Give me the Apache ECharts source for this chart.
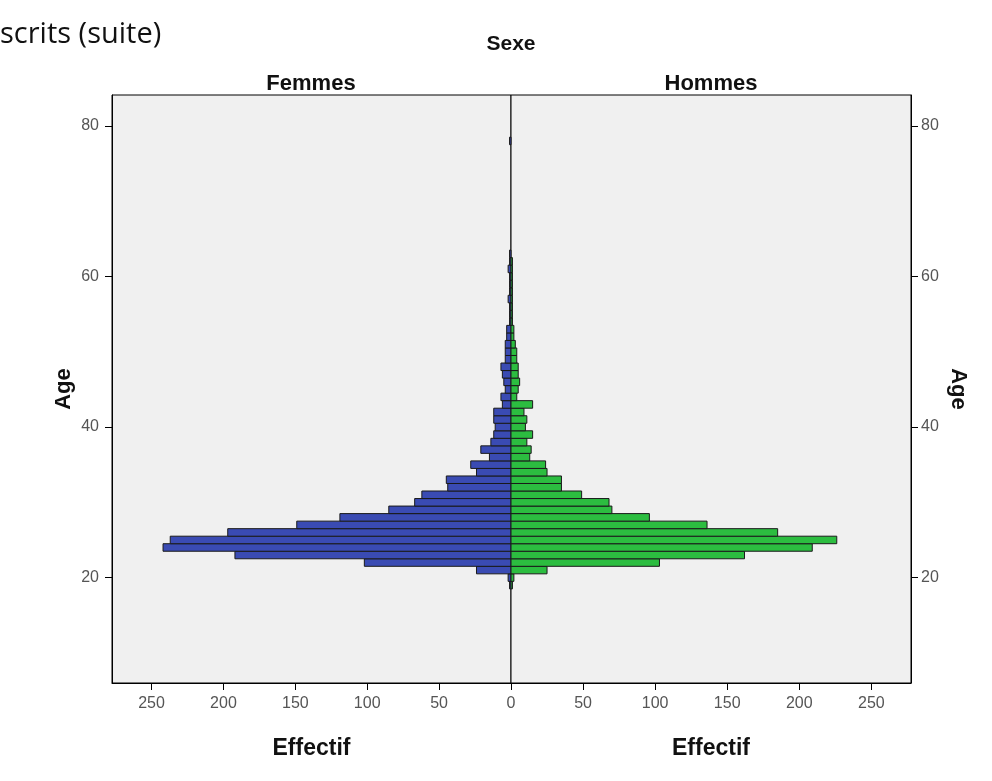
<!DOCTYPE html>
<html>
<head>
<meta charset="utf-8">
<script src="https://cdn.jsdelivr.net/npm/echarts@6/dist/echarts.min.js"></script>
<style>
html,body{margin:0;padding:0;background:#fff;}
#chart{width:992px;height:781px;}
</style>
</head>
<body>
<div id="chart"></div>
<script>
// Ages (one-year bins)
const ages = [19,20,21,22,23,24,25,26,27,28,29,30,31,32,33,34,35,36,37,38,39,40,41,42,43,44,45,46,47,48,49,50,51,52,53,54,55,56,57,58,59,60,61,62,63,78];
// Effectif, Femmes
const femmes = [1,2,24,102,192,242,237,197,149,119,85,67,62,44,45,24,28,15,21,14,12,11,12,12,6,7,4,5,6,7,4,4,4,3,3,1,1,1,2,1,1,1,2,1,1,1];
// Effectif, Hommes
const hommes = [1,2,25,103,162,209,226,185,136,96,70,68,49,35,35,25,24,13,14,11,15,10,11,9,15,4,5,6,5,5,4,4,3,2,2,1,1,1,1,1,1,1,1,1,0,0];
// Tick labels
const xTicks = [0,50,100,150,200,250];
const xTicksRightLabels = [50,100,150,200,250];
const yTicks = [20,40,60,80];

const FONT = 'Liberation Sans';
const chart = echarts.init(document.getElementById('chart'));

function makeRender(color){
  return function(params, api){
    const v = api.value(0), a = api.value(1);
    if (!v) return null;
    const p0 = api.coord([0, a + 0.5]);
    const p1 = api.coord([v, a - 0.5]);
    return {
      type: 'rect',
      shape: {x: Math.min(p0[0], p1[0]), y: p0[1], width: Math.abs(p1[0] - p0[0]), height: p1[1] - p0[1]},
      style: {fill: color, stroke: '#1a1a1a', lineWidth: 1}
    };
  };
}

const axisCommonX = {
  type: 'value', min: 0, max: 277.5,
  axisLine: {show: true, onZero: false, lineStyle: {color: '#000', width: 1}},
  axisTick: {show: true, customValues: xTicks, length: 7, lineStyle: {color: '#000'}},
  axisLabel: {customValues: xTicks, color: '#555', fontFamily: FONT, fontSize: 16, margin: 13},
  splitLine: {show: false},
  name: 'Effectif', nameLocation: 'middle', nameGap: 54,
  nameTextStyle: {fontFamily: FONT, fontWeight: 'bold', fontSize: 23, color: '#111'}
};
const axisCommonY = {
  type: 'value', min: 6, max: 84.1,
  axisLine: {show: true, onZero: false, lineStyle: {color: '#000', width: 1}},
  axisTick: {show: true, customValues: yTicks, length: 7, lineStyle: {color: '#000'}},
  axisLabel: {customValues: yTicks, color: '#555', fontFamily: FONT, fontSize: 16, margin: 13},
  splitLine: {show: false},
  name: 'Age', nameLocation: 'middle',
  nameTextStyle: {fontFamily: FONT, fontWeight: 'bold', fontSize: 22, color: '#111'}
};

const femData = ages.map((a, i) => [femmes[i], a]);
const homData = ages.map((a, i) => [hommes[i], a]);

chart.setOption({
  animation: false,
  backgroundColor: '#fff',
  grid: [
    {left: 112, top: 95, width: 399, height: 588, show: true, backgroundColor: '#f0f0f0', borderColor: '#000', borderWidth: 1},
    {left: 511, top: 95, width: 400, height: 588, show: true, backgroundColor: '#f0f0f0', borderColor: '#000', borderWidth: 1}
  ],
  xAxis: [
    Object.assign({}, axisCommonX, {gridIndex: 0, inverse: true}),
    Object.assign({}, axisCommonX, {gridIndex: 1, axisLabel: Object.assign({}, axisCommonX.axisLabel, {customValues: xTicksRightLabels})})
  ],
  yAxis: [
    Object.assign({}, axisCommonY, {gridIndex: 0, position: 'left', nameGap: 37, nameRotate: 90}),
    Object.assign({}, axisCommonY, {gridIndex: 1, position: 'right', nameGap: 36, nameRotate: -90, axisLabel: Object.assign({}, axisCommonY.axisLabel, {margin: 10})})
  ],
  series: [
    {type: 'custom', name: 'Femmes', xAxisIndex: 0, yAxisIndex: 0, data: femData, encode: {x: 0, y: 1}, renderItem: makeRender('#3a4bb3')},
    {type: 'custom', name: 'Hommes', xAxisIndex: 1, yAxisIndex: 1, data: homData, encode: {x: 0, y: 1}, renderItem: makeRender('#2cbd40')}
  ],
  graphic: [
    {type: 'text', x: 0, y: 35, style: {text: 'scrits (suite)', font: '29px "Open Sans"', fill: '#111', verticalAlign: 'middle'}},
    {type: 'text', x: 511, y: 44, style: {text: 'Sexe', font: 'bold 21px "Liberation Sans"', fill: '#111', align: 'center', verticalAlign: 'middle'}},
    {type: 'text', x: 311, y: 84, style: {text: 'Femmes', font: 'bold 22px "Liberation Sans"', fill: '#111', align: 'center', verticalAlign: 'middle'}},
    {type: 'text', x: 711, y: 84, style: {text: 'Hommes', font: 'bold 22px "Liberation Sans"', fill: '#111', align: 'center', verticalAlign: 'middle'}}
  ]
});
</script>
</body>
</html>
